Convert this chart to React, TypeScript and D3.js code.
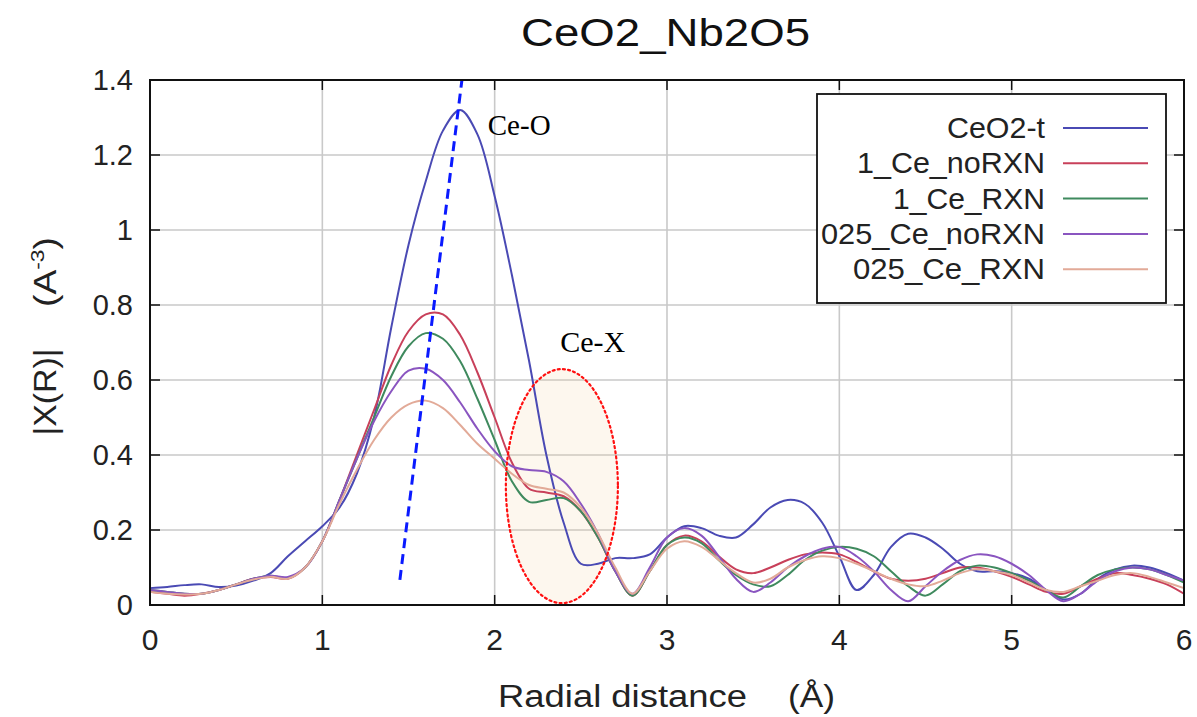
import React from "react";
import * as d3 from "d3";

const R = [0.0,0.1,0.2,0.3,0.4,0.5,0.6,0.7,0.8,0.9,1.0,1.1,1.2,1.3,1.4,1.5,1.6,1.7,1.8,1.9,2.0,2.1,2.2,2.3,2.4,2.5,2.6,2.7,2.8,2.9,3.0,3.1,3.2,3.3,3.4,3.5,3.6,3.7,3.8,3.9,4.0,4.1,4.2,4.3,4.4,4.5,4.6,4.7,4.8,4.9,5.0,5.1,5.2,5.3,5.4,5.5,5.6,5.7,5.8,5.9,6.0];

const ceo2t = [0.045,0.048,0.053,0.055,0.048,0.052,0.065,0.085,0.13,0.17,0.21,0.26,0.35,0.50,0.74,0.96,1.13,1.265,1.32,1.255,1.09,0.88,0.65,0.40,0.22,0.11,0.11,0.125,0.125,0.135,0.18,0.21,0.205,0.185,0.18,0.215,0.26,0.28,0.27,0.22,0.13,0.04,0.08,0.155,0.19,0.18,0.15,0.11,0.09,0.09,0.085,0.07,0.04,0.015,0.03,0.07,0.095,0.105,0.10,0.085,0.065];
const ce1NoRxn = [0.035,0.03,0.025,0.03,0.04,0.055,0.07,0.075,0.07,0.10,0.17,0.28,0.40,0.52,0.64,0.73,0.775,0.775,0.72,0.62,0.50,0.38,0.31,0.30,0.29,0.25,0.18,0.09,0.025,0.09,0.16,0.185,0.17,0.13,0.095,0.085,0.10,0.12,0.135,0.14,0.135,0.115,0.09,0.07,0.065,0.07,0.085,0.10,0.10,0.09,0.075,0.055,0.035,0.03,0.05,0.07,0.085,0.08,0.07,0.055,0.03];
const ce1Rxn = [0.04,0.035,0.03,0.03,0.04,0.055,0.07,0.078,0.072,0.10,0.17,0.28,0.39,0.50,0.61,0.69,0.725,0.71,0.65,0.55,0.44,0.33,0.275,0.28,0.285,0.25,0.18,0.09,0.025,0.09,0.16,0.18,0.165,0.12,0.08,0.055,0.05,0.08,0.12,0.145,0.155,0.15,0.13,0.09,0.05,0.025,0.055,0.09,0.105,0.10,0.085,0.065,0.04,0.02,0.05,0.08,0.095,0.10,0.095,0.08,0.06];
const ce025NoRxn = [0.04,0.035,0.03,0.03,0.04,0.055,0.07,0.078,0.075,0.10,0.17,0.28,0.39,0.49,0.57,0.625,0.63,0.60,0.54,0.47,0.41,0.37,0.36,0.355,0.33,0.27,0.19,0.09,0.03,0.10,0.18,0.205,0.185,0.13,0.07,0.035,0.06,0.10,0.13,0.15,0.155,0.13,0.09,0.04,0.01,0.05,0.09,0.12,0.135,0.13,0.11,0.08,0.04,0.01,0.03,0.065,0.09,0.10,0.095,0.08,0.065];
const ce025Rxn = [0.035,0.03,0.028,0.03,0.04,0.055,0.068,0.075,0.07,0.10,0.17,0.27,0.36,0.44,0.50,0.535,0.545,0.525,0.48,0.43,0.39,0.35,0.32,0.31,0.30,0.26,0.19,0.10,0.03,0.09,0.15,0.17,0.155,0.12,0.085,0.06,0.07,0.10,0.12,0.13,0.125,0.11,0.09,0.07,0.055,0.05,0.065,0.085,0.095,0.09,0.08,0.06,0.04,0.035,0.05,0.065,0.08,0.085,0.075,0.06,0.045];

const seriesNames = ["CeO2-t", "1_Ce_noRXN", "1_Ce_RXN", "025_Ce_noRXN", "025_Ce_RXN"];
const seriesValues = [ceo2t, ce1NoRxn, ce1Rxn, ce025NoRxn, ce025Rxn];
const seriesColors = ["#4a4ab4", "#c8405a", "#3f8a5e", "#8a55c0", "#e2aa98"];
const legendWidths = [98, 188, 152, 224, 192];

const xTicks = [0, 1, 2, 3, 4, 5, 6];
const yTicks = [0, 0.2, 0.4, 0.6, 0.8, 1, 1.2, 1.4];

// annotations in data units
const ceOLine = [[1.45, 0.067], [1.81, 1.4]];
const ceOLabel = { r: 1.96, v: 1.253, text: "Ce-O" };
const ceXLabel = { r: 2.38, v: 0.675, text: "Ce-X" };
const ceXEllipse = { r: 2.39, v: 0.317, rr: 0.325, rv: 0.312 };

export default function App() {
  const W = 1197, H = 717;
  const x = d3.scaleLinear().domain([0, 6]).range([150, 1184]);
  const y = d3.scaleLinear().domain([0, 1.4]).range([605, 80]);
  const line = d3.line<number>()
    .x((_, i) => x(R[i]))
    .y((d) => y(d))
    .curve(d3.curveCatmullRom.alpha(0.5));
  const sans = "'Liberation Sans', Arial, sans-serif";
  const serif = "'Liberation Serif', 'Times New Roman', serif";
  const left = x(0), right = x(6), top = y(1.4), bottom = y(0);

  const cx = x(ceXEllipse.r), cy = y(ceXEllipse.v);
  const erx = x(ceXEllipse.r + ceXEllipse.rr) - cx;
  const ery = cy - y(ceXEllipse.v + ceXEllipse.rv);

  const legX0 = 817, legY0 = 94, legW = 349, legH = 209;

  return (
    <svg width={W} height={H} style={{ position: "absolute", left: 0, top: 0, background: "#fff" }}>
      <rect x={0} y={0} width={W} height={H} fill="#fff" />
      <text x={521} y={46} fontFamily={sans} fontSize={39} textLength={289} lengthAdjust="spacingAndGlyphs" fill="#111">CeO2_Nb2O5</text>

      {/* grid */}
      {xTicks.slice(1, -1).map((t) => (
        <line key={"gx" + t} x1={x(t)} x2={x(t)} y1={top} y2={bottom} stroke="#c9c9c9" strokeWidth={1.6} />
      ))}
      {yTicks.slice(1, -1).map((t) => (
        <line key={"gy" + t} x1={left} x2={right} y1={y(t)} y2={y(t)} stroke="#c9c9c9" strokeWidth={1.6} />
      ))}

      {/* ellipse fill */}
      <ellipse cx={cx} cy={cy} rx={erx} ry={ery} fill="rgba(245,205,150,0.16)" stroke="none" />

      {/* curves */}
      {seriesValues.map((vals, i) => (
        <path key={"s" + i} d={line(vals) || ""} fill="none" stroke={seriesColors[i]} strokeWidth={2} strokeLinejoin="round" />
      ))}

      {/* ellipse outline */}
      <ellipse cx={cx} cy={cy} rx={erx} ry={ery} fill="none" stroke="#ff1010" strokeWidth={2.2} strokeDasharray="2 3.2" strokeLinecap="round" />

      {/* dashed line */}
      <line x1={x(ceOLine[0][0])} y1={y(ceOLine[0][1])} x2={x(ceOLine[1][0])} y2={y(ceOLine[1][1])} stroke="#0a1aff" strokeWidth={3} strokeDasharray="10 6" />

      <text x={x(ceOLabel.r)} y={y(ceOLabel.v)} fontFamily={serif} fontSize={29} fill="#000">{ceOLabel.text}</text>
      <text x={x(ceXLabel.r)} y={y(ceXLabel.v)} fontFamily={serif} fontSize={30} fill="#000">{ceXLabel.text}</text>

      {/* frame & ticks */}
      <rect x={left} y={top} width={right - left} height={bottom - top} fill="none" stroke="#111" strokeWidth={2} />
      {xTicks.map((t) => (
        <g key={"tx" + t}>
          <line x1={x(t)} x2={x(t)} y1={bottom} y2={bottom - 10} stroke="#111" strokeWidth={1.5} />
          <line x1={x(t)} x2={x(t)} y1={top} y2={top + 10} stroke="#111" strokeWidth={1.5} />
          <text x={x(t)} y={650} textAnchor="middle" fontFamily={sans} fontSize={30} fill="#222">{t}</text>
        </g>
      ))}
      {yTicks.map((t) => (
        <g key={"ty" + t}>
          <line x1={left} x2={left + 10} y1={y(t)} y2={y(t)} stroke="#111" strokeWidth={1.5} />
          <line x1={right} x2={right - 10} y1={y(t)} y2={y(t)} stroke="#111" strokeWidth={1.5} />
          <text x={133} y={y(t) + 10} textAnchor="end" fontFamily={sans} fontSize={29} fill="#222">{String(t)}</text>
        </g>
      ))}

      {/* legend */}
      <rect x={legX0} y={legY0} width={legW} height={legH} fill="#fff" stroke="#111" strokeWidth={1.8} />
      {seriesNames.map((n, i) => {
        const yy = 128 + i * 35.3;
        return (
          <g key={"l" + i}>
            <text x={1045} y={yy + 10} textAnchor="end" fontFamily={sans} fontSize={29} textLength={legendWidths[i]} lengthAdjust="spacingAndGlyphs" fill="#222">{n}</text>
            <line x1={1063} x2={1148} y1={yy} y2={yy} stroke={seriesColors[i]} strokeWidth={2} />
          </g>
        );
      })}

      {/* axis labels */}
      <text x={498} y={707} fontFamily={sans} fontSize={31} textLength={249} lengthAdjust="spacingAndGlyphs" fill="#222">Radial distance</text>
      <text x={788} y={707} fontFamily={sans} fontSize={31} textLength={47} lengthAdjust="spacingAndGlyphs" fill="#222">(Å)</text>
      <text transform="translate(56,392) rotate(-90)" textAnchor="middle" fontFamily={sans} fontSize={31} textLength={87} lengthAdjust="spacingAndGlyphs" fill="#222">|X(R)|</text>
      <g transform="translate(56,272) rotate(-90) scale(1.2,1)">
        <text textAnchor="middle" fontFamily={sans} fontSize={31} fill="#222">
          (A<tspan dy={-12} fontSize={19}>-3</tspan><tspan dy={12}>)</tspan>
        </text>
      </g>
    </svg>
  );
}
